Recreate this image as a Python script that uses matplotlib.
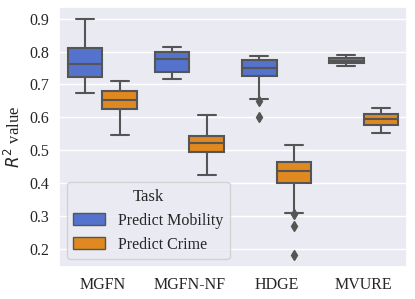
import matplotlib
matplotlib.use("Agg")
import matplotlib.pyplot as plt
import seaborn as sns
from matplotlib.patches import Patch

methods = ["MGFN", "MGFN-NF", "HDGE", "MVURE"]
tasks = ["Predict Mobility", "Predict Crime"]

# box statistics per method (whislo, q1, med, q3, whishi)
mob_whislo = [0.674, 0.718, 0.655, 0.757]
mob_q1 = [0.723, 0.737, 0.725, 0.764]
mob_med = [0.762, 0.776, 0.749, 0.772]
mob_q3 = [0.811, 0.799, 0.773, 0.781]
mob_whishi = [0.900, 0.815, 0.788, 0.789]
mob_fliers = [[], [], [0.649, 0.602], []]

crime_whislo = [0.546, 0.424, 0.309, 0.551]
crime_q1 = [0.626, 0.495, 0.401, 0.578]
crime_med = [0.654, 0.522, 0.437, 0.594]
crime_q3 = [0.680, 0.542, 0.464, 0.609]
crime_whishi = [0.711, 0.607, 0.517, 0.629]
crime_fliers = [[], [], [0.306, 0.270, 0.180], []]

colors = ["#5573cd", "#df8920"]
line_gray = "#555555"

sns.set_theme(style="darkgrid")
plt.rcParams["font.family"] = ["Liberation Serif", "DejaVu Serif"]
plt.rcParams["mathtext.fontset"] = "dejavusans"

fig = plt.figure(figsize=(4.15, 2.99), dpi=100)
ax = fig.add_axes([0.142, 0.107, 0.839, 0.870])

def stats(wl, q1, med, q3, wh, fl):
    return [dict(whislo=a, q1=b, med=c, q3=d, whishi=e, fliers=f, label="")
            for a, b, c, d, e, f in zip(wl, q1, med, q3, wh, fl)]

groups = [
    stats(mob_whislo, mob_q1, mob_med, mob_q3, mob_whishi, mob_fliers),
    stats(crime_whislo, crime_q1, crime_med, crime_q3, crime_whishi, crime_fliers),
]
offsets = [-0.2, 0.2]
for st, off, col in zip(groups, offsets, colors):
    pos = [i + off for i in range(len(methods))]
    ax.bxp(st, positions=pos, widths=0.4, patch_artist=True, manage_ticks=False,
           boxprops=dict(facecolor=col, edgecolor=line_gray, linewidth=1.5),
           medianprops=dict(color=line_gray, linewidth=1.5),
           whiskerprops=dict(color=line_gray, linewidth=1.5),
           capprops=dict(color=line_gray, linewidth=1.5),
           flierprops=dict(marker="d", markerfacecolor=line_gray, markeredgecolor=line_gray,
                           markersize=5, linestyle="none"),
           capwidths=0.2)

ax.set_xlim(-0.5, len(methods) - 0.5)
ax.set_ylim(0.145, 0.936)
ax.set_xticks(range(len(methods)))
ax.set_xticklabels(methods, fontsize=11.5)
ax.set_yticks([0.2, 0.3, 0.4, 0.5, 0.6, 0.7, 0.8, 0.9])
ax.set_yticklabels(["0.2", "0.3", "0.4", "0.5", "0.6", "0.7", "0.8", "0.9"], fontsize=11.5)
ax.tick_params(axis="both", length=0, pad=7)
ax.set_ylabel("$R^2$ value", fontsize=12, labelpad=4)
ax.grid(axis="x", visible=False)

handles = [Patch(facecolor=c, edgecolor=line_gray, linewidth=1.0) for c in colors]
leg = ax.legend(handles, tasks, title="Task", loc="lower left", fontsize=11.5, title_fontsize=12)

fig.savefig("out.png", dpi=100)
